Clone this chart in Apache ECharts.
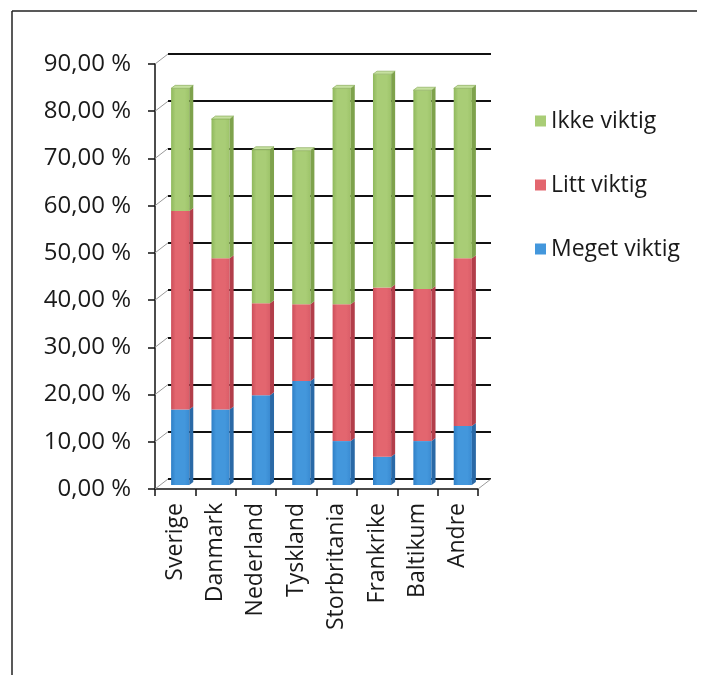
<!DOCTYPE html>
<html>
<head>
<meta charset="utf-8">
<script src="https://cdn.jsdelivr.net/npm/echarts@6/dist/echarts.min.js"></script>
<style>
  html, body { margin: 0; padding: 0; background: #fff; }
  #chart { width: 708px; height: 675px; }
</style>
</head>
<body>
<div id="chart"></div>
<script>
// Land categories
const categories = ['Sverige', 'Danmark', 'Nederland', 'Tyskland', 'Storbritania', 'Frankrike', 'Baltikum', 'Andre'];

// Share of answers per category (percent)
const megetViktig = [16.0, 16.0, 19.0, 22.0, 9.3, 6.0, 9.3, 12.5];
const littViktig  = [42.0, 32.0, 19.5, 16.3, 29.0, 35.8, 32.2, 35.5];
const ikkeViktig  = [26.0, 29.5, 32.5, 32.5, 45.7, 45.2, 42.1, 36.0];

// Value axis ticks
const yTicks = [0, 10, 20, 30, 40, 50, 60, 70, 80, 90];

const seriesNames = ['Meget viktig', 'Litt viktig', 'Ikke viktig'];
const seriesValues = [megetViktig, littViktig, ikkeViktig];

// Face colours for the pseudo-3D prisms: [left edge, centre, right edge, side, top]
const palettes = [
  ['#2f7fc6', '#4397dc', '#3a8bd2', '#2a69a6', '#6fb0e6'],
  ['#cc4e5a', '#e3666f', '#da5d68', '#b23e4a', '#ef9aa0'],
  ['#8fb85c', '#a9cd76', '#9ec46a', '#7ea24c', '#c6e0a0']
];

const FONT = '"Open Sans", sans-serif';
const DEPTH_X = 13, DEPTH_Y = 10;     // offset between front axis plane and back wall
const BAR_SHIFT_X = 5, BAR_SHIFT_Y = 4; // bars sit partway into the depth
const SIDE_X = 4, SIDE_Y = 3;         // visible thickness of each prism

// Cumulative stacking
const stacked = seriesValues.map(() => []);
categories.forEach((c, i) => {
  let base = 0;
  seriesValues.forEach((vals, s) => {
    stacked[s].push([i, base, base + vals[i], s === seriesValues.length - 1 ? 1 : 0]);
    base += vals[i];
  });
});

function prismRenderer(pal) {
  return function (params, api) {
    const i = api.value(0), lo = api.value(1), hi = api.value(2), isTop = api.value(3);
    const bw = api.size([1, 0])[0];
    const faceW = bw * 0.45;
    const pLo = api.coord([i, lo]);
    const pHi = api.coord([i, hi]);
    const cx = pLo[0] + BAR_SHIFT_X;
    const x0 = cx - faceW / 2, x1 = cx + faceW / 2;
    const yb = pLo[1] - BAR_SHIFT_Y, yt = pHi[1] - BAR_SHIFT_Y;
    const children = [
      {
        type: 'rect',
        shape: { x: x0, y: yt, width: faceW, height: yb - yt },
        style: {
          fill: new echarts.graphic.LinearGradient(0, 0, 1, 0, [
            { offset: 0, color: pal[0] },
            { offset: 0.25, color: pal[1] },
            { offset: 0.75, color: pal[1] },
            { offset: 1, color: pal[2] }
          ])
        }
      },
      {
        type: 'polygon',
        shape: { points: [[x1, yb], [x1 + SIDE_X, yb - SIDE_Y], [x1 + SIDE_X, yt - SIDE_Y], [x1, yt]] },
        style: { fill: pal[3] }
      }
    ];
    if (isTop) {
      children.push({
        type: 'polygon',
        shape: { points: [[x0, yt], [x1, yt], [x1 + SIDE_X, yt - SIDE_Y], [x0 + SIDE_X, yt - SIDE_Y]] },
        style: { fill: pal[4], stroke: pal[3], lineWidth: 0.6 }
      });
    }
    return { type: 'group', children };
  };
}

// Short receding lines from each front tick to the back wall
function depthLines(params, api) {
  const v = api.value(0);
  const bw = api.size([1, 0])[0];
  const p = api.coord([0, v]);
  const x = p[0] - bw / 2;
  const children = [{
    type: 'line',
    shape: { x1: x, y1: p[1], x2: x + DEPTH_X, y2: p[1] - DEPTH_Y },
    style: { stroke: '#9a9a9a', lineWidth: 1 }
  }];
  if (v === 0) {
    const q = api.coord([categories.length - 1, 0]);
    const xr = q[0] + bw / 2;
    children.push({
      type: 'line',
      shape: { x1: xr, y1: q[1], x2: xr + DEPTH_X, y2: q[1] - DEPTH_Y },
      style: { stroke: '#9a9a9a', lineWidth: 1 }
    });
  }
  return { type: 'group', children };
}

const series = [
  {
    type: 'custom',
    name: 'depth',
    xAxisIndex: 0, yAxisIndex: 0,
    renderItem: depthLines,
    data: yTicks.map(v => [v]),
    encode: { y: 0 },
    silent: true,
    z: 1
  }
];
seriesNames.forEach((name, s) => {
  series.push({
    type: 'custom',
    name,
    xAxisIndex: 0, yAxisIndex: 0,
    renderItem: prismRenderer(palettes[s]),
    data: stacked[s],
    encode: { x: 0, y: [1, 2] },
    itemStyle: { color: palettes[s][1] },
    z: 5
  });
});

const option = {
  animation: false,
  backgroundColor: '#fff',
  grid: [
    { left: 155, right: 230, top: 64, bottom: 186 },                              // front plane
    { left: 155 + DEPTH_X, right: 230 - DEPTH_X, top: 64 - DEPTH_Y, bottom: 186 + DEPTH_Y } // back wall
  ],
  xAxis: [
    {
      type: 'category', gridIndex: 0, data: categories,
      axisLine: { lineStyle: { color: '#111', width: 1.5 } },
      axisTick: { show: true, length: 7, interval: 0, lineStyle: { color: '#111', width: 1.5 } },
      axisLabel: { rotate: 90, interval: 0, margin: 14, color: '#1a1a1a', fontFamily: FONT, fontSize: 23 }
    },
    {
      type: 'category', gridIndex: 1, data: categories,
      axisLine: { show: false }, axisTick: { show: false }, axisLabel: { show: false }
    }
  ],
  yAxis: [
    {
      type: 'value', gridIndex: 0, min: 0, max: 90, interval: 10,
      axisLine: { show: true, lineStyle: { color: '#111', width: 1.5 } },
      axisTick: { show: true, length: 7, lineStyle: { color: '#111', width: 1.5 } },
      splitLine: { show: false },
      axisLabel: {
        margin: 24, color: '#1a1a1a', fontFamily: FONT, fontSize: 24,
        formatter: v => v.toFixed(2).replace('.', ',') + ' %'
      }
    },
    {
      type: 'value', gridIndex: 1, min: 0, max: 90, interval: 10,
      axisLine: { show: false }, axisTick: { show: false }, axisLabel: { show: false },
      splitLine: { show: true, lineStyle: { color: '#111', width: 1.8 } }
    }
  ],
  legend: {
    orient: 'vertical',
    left: 530, top: 102,
    data: ['Ikke viktig', 'Litt viktig', 'Meget viktig'],
    icon: 'rect',
    itemWidth: 11, itemHeight: 11,
    itemGap: 36,
    textStyle: { fontFamily: FONT, fontSize: 23, color: '#1a1a1a', lineHeight: 28 }
  },
  graphic: [
    { type: 'line', shape: { x1: 12, y1: 11, x2: 12, y2: 675 }, style: { stroke: '#222', lineWidth: 1.5 } },
    { type: 'line', shape: { x1: 12, y1: 11, x2: 697, y2: 11 }, style: { stroke: '#222', lineWidth: 1.5 } }
  ],
  series
};

const chart = echarts.init(document.getElementById('chart'), null, { renderer: 'canvas' });
chart.setOption(option);
</script>
</body>
</html>
